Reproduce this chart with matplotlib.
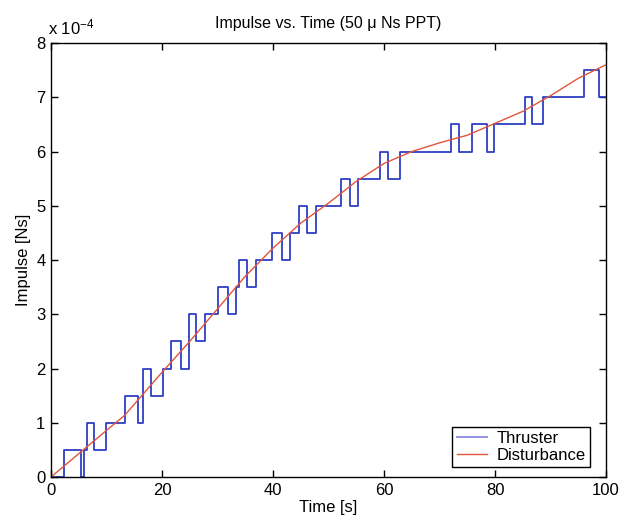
import matplotlib
matplotlib.use('Agg')
import matplotlib.pyplot as plt
from matplotlib.ticker import FuncFormatter

plt.rcParams['font.family'] = ['Liberation Sans', 'DejaVu Sans']
plt.rcParams['mathtext.fontset'] = 'custom'
plt.rcParams['mathtext.rm'] = 'Liberation Sans'
plt.rcParams['mathtext.it'] = 'Liberation Sans:italic'

# thruster impulse, step changes (time [s], level in 1e-4 Ns)
step_time = [0, 2.4, 5.35, 5.9, 6.5, 7.75, 9.85, 13.3, 15.7, 16.6, 18.1, 20.2,
             21.7, 23.5, 24.9, 26.1, 27.7, 30.1, 31.9, 33.4, 33.9, 35.3, 37.0,
             39.9, 41.6, 43.1, 44.6, 46.2, 47.7, 52.2, 53.9, 55.4, 59.3, 60.8,
             62.8, 72.0, 73.6, 75.8, 78.5, 79.8, 85.4, 86.6, 88.7, 96.1, 98.7, 100]
step_level = [0, 0.5, 0, 0.5, 1.0, 0.5, 1.0, 1.5, 1.0, 2.0, 1.5, 2.0,
              2.5, 2.0, 3.0, 2.5, 3.0, 3.5, 3.0, 3.5, 4.0, 3.5, 4.0,
              4.5, 4.0, 4.5, 5.0, 4.5, 5.0, 5.5, 5.0, 5.5, 6.0, 5.5,
              6.0, 6.5, 6.0, 6.5, 6.0, 6.5, 7.0, 6.5, 7.0, 7.5, 7.0, 7.0]

# disturbance impulse (1e-4 Ns)
dist_time = [0, 5, 10, 13.3, 20, 25, 30, 35, 40, 45, 50, 55, 60, 65, 70, 75,
             80, 85, 90, 95, 100]
dist_val = [0, 0.43, 0.86, 1.14, 1.93, 2.5, 3.1, 3.7, 4.22, 4.68, 5.05, 5.45,
            5.78, 6.0, 6.16, 6.30, 6.52, 6.74, 7.03, 7.35, 7.6]

scale = 1e-4
fig = plt.figure(figsize=(6.19, 5.25), dpi=100)
ax = fig.add_axes([0.0824, 0.0914, 0.8966, 0.8266])

ax.step(step_time, [v * scale for v in step_level], where='post',
        color='#2f3fc4', lw=1.3, label='Thruster')
ax.plot(dist_time, [v * scale for v in dist_val], color='#e2553c', lw=1.0,
        label='Disturbance')

ax.set_xlim(0, 100)
ax.set_ylim(0, 8e-4)
ax.set_xticks([0, 20, 40, 60, 80, 100])
ax.set_yticks([i * scale for i in range(9)])
ax.yaxis.set_major_formatter(FuncFormatter(lambda v, p: '%d' % round(v / scale)))
ax.tick_params(direction='in', length=5, top=True, right=True, labelsize=12,
               width=1, pad=4)
for s in ax.spines.values():
    s.set_linewidth(1.0)

ax.set_title('Impulse vs. Time (50 \u03bc Ns PPT)', fontsize=11.5, pad=11)
ax.set_xlabel('Time [s]', fontsize=12, labelpad=2)
ax.set_ylabel('Impulse [Ns]', fontsize=12, labelpad=4)
ax.text(-0.005, 1.012, 'x 10$^{-4}$', transform=ax.transAxes, fontsize=12,
        ha='left', va='bottom')

leg = ax.legend(loc='lower right', bbox_to_anchor=(0.971, 0.023),
                borderaxespad=0, fontsize=12, fancybox=False, framealpha=1,
                edgecolor='black', handlelength=1.8, handletextpad=0.6,
                borderpad=0.25, labelspacing=0.1)
leg.get_frame().set_linewidth(1.0)
leg.get_lines()[0].set_color('#8a8ae6')

fig.savefig('out.png', dpi=100)
